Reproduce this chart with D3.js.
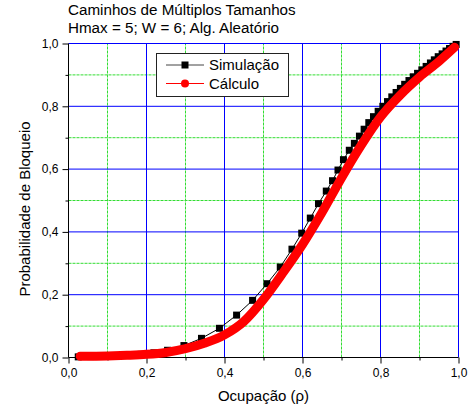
<!DOCTYPE html>
<html><head><meta charset="utf-8">
<script src="https://cdn.jsdelivr.net/npm/d3@7"></script>
<style>
body{margin:0;background:#fff;}
svg text{font-family:"Liberation Sans",Arial,Helvetica,sans-serif;fill:#000;}
</style></head>
<body><svg id="c" width="471" height="416"></svg>
<script>
const titleLines = ["Caminhos de Múltiplos Tamanhos", "Hmax = 5; W = 6; Alg. Aleatório"];
const xLabel = "Ocupação (ρ)";
const yLabel = "Probabilidade de Bloqueio";
const seriesNames = ["Simulação", "Cálculo"];
const majorTicks = [0, 0.2, 0.4, 0.6, 0.8, 1.0];
const minorTicks = [0.1, 0.3, 0.5, 0.7, 0.9];

const simX = [0.025,0.057,0.089,0.121,0.153,0.186,0.219,0.254,0.296,0.341,0.387,0.431,0.472,0.509,0.543,0.573,0.598,0.620,0.641,0.661,0.677,0.691,0.705,0.720,0.733,0.746,0.758,0.770,0.782,0.794,0.806,0.818,0.829,0.840,0.851,0.862,0.873,0.884,0.895,0.906,0.917,0.928,0.938,0.948,0.958,0.968,0.977,0.986,0.994];
const simY = [0.002,0.003,0.004,0.006,0.008,0.010,0.015,0.023,0.038,0.061,0.093,0.135,0.182,0.235,0.288,0.345,0.396,0.444,0.490,0.530,0.563,0.597,0.630,0.660,0.682,0.705,0.727,0.748,0.767,0.784,0.800,0.815,0.830,0.844,0.857,0.870,0.882,0.894,0.905,0.916,0.927,0.938,0.948,0.958,0.967,0.976,0.984,0.991,0.997];

const calcX = [0.03,0.10,0.15,0.20,0.25,0.30,0.35,0.40,0.45,0.50,0.55,0.60,0.65,0.70,0.75,0.80,0.85,0.90,0.95,0.99];
const calcY = [0.004,0.005,0.007,0.010,0.016,0.028,0.046,0.072,0.115,0.185,0.270,0.360,0.462,0.572,0.675,0.766,0.835,0.893,0.943,0.988];

const svg = d3.select("#c");
const x = d3.scaleLinear().domain([0,1]).range([68.5,458.5]);
const y = d3.scaleLinear().domain([0,1]).range([357.5,43.5]);
const fmt = v => d3.format(".1f")(v).replace(".", ",");

// minor grid
const g = svg.append("g");
g.selectAll(null).data(minorTicks).join("line")
  .attr("x1", d=>x(d)).attr("x2", d=>x(d)).attr("y1", y(0)).attr("y2", y(1))
  .attr("stroke","#33dd33").attr("stroke-width",1).attr("stroke-dasharray","3,1");
g.selectAll(null).data(minorTicks).join("line")
  .attr("y1", d=>y(d)).attr("y2", d=>y(d)).attr("x1", x(0)).attr("x2", x(1))
  .attr("stroke","#33dd33").attr("stroke-width",1).attr("stroke-dasharray","3,1");
// major grid
g.selectAll(null).data(majorTicks.slice(1)).join("line")
  .attr("x1", d=>x(d)).attr("x2", d=>x(d)).attr("y1", y(0)).attr("y2", y(1))
  .attr("stroke","#0000ff").attr("stroke-width",1);
g.selectAll(null).data(majorTicks.slice(1)).join("line")
  .attr("y1", d=>y(d)).attr("y2", d=>y(d)).attr("x1", x(0)).attr("x2", x(1))
  .attr("stroke","#0000ff").attr("stroke-width",1);

// axes
const ax = svg.append("g").attr("transform",`translate(0,${y(0)})`)
  .call(d3.axisBottom(x).tickValues(majorTicks).tickFormat(fmt).tickSize(6).tickPadding(5));
svg.append("g").attr("transform",`translate(0,${y(0)})`)
  .call(d3.axisBottom(x).tickValues(minorTicks).tickFormat("").tickSize(3)).select(".domain").remove();
const ay = svg.append("g").attr("transform",`translate(${x(0)},0)`)
  .call(d3.axisLeft(y).tickValues(majorTicks).tickFormat(fmt).tickSize(6).tickPadding(4));
svg.append("g").attr("transform",`translate(${x(0)},0)`)
  .call(d3.axisLeft(y).tickValues(minorTicks).tickFormat("").tickSize(3)).select(".domain").remove();
svg.selectAll(".tick line").attr("stroke","#000");
svg.selectAll(".tick text").attr("font-size",12).attr("fill","#000")
  .attr("font-family","'Liberation Sans',Arial,sans-serif");
ax.selectAll(".domain").remove();
ay.selectAll(".domain").remove();
svg.append("line").attr("x1",x(0)).attr("x2",x(0)).attr("y1",y(1)).attr("y2",y(0)).attr("stroke","#000");
svg.append("line").attr("x1",x(0)).attr("x2",x(1)).attr("y1",y(0)).attr("y2",y(0)).attr("stroke","#000");

// simulation series
const sim = simX.map((v,i)=>[v, simY[i]]);
const calc = calcX.map((v,i)=>[v, calcY[i]]);
const line = d3.line().x(d=>x(d[0])).y(d=>y(d[1]));
svg.append("path").attr("d", line(sim)).attr("fill","none").attr("stroke","#000").attr("stroke-width",1);
svg.selectAll(null).data(sim).join("rect")
  .attr("x", d=>x(d[0])-3.5).attr("y", d=>y(d[1])-3.5).attr("width",7).attr("height",7).attr("fill","#000");
// calculation series
const lineC = d3.line().x(d=>x(d[0])).y(d=>y(d[1])).curve(d3.curveMonotoneX);
svg.append("path").attr("d", lineC(calc)).attr("fill","none").attr("stroke","#ff0000")
  .attr("stroke-width",9).attr("stroke-linecap","round").attr("stroke-linejoin","round");

// titles
svg.selectAll(null).data(titleLines).join("text")
  .attr("x",68).attr("y",(d,i)=>15+i*17.5).text(d=>d).attr("font-size",15.2);
svg.append("text").attr("x",(x(0)+x(1))/2).attr("y",401).attr("text-anchor","middle")
  .text(xLabel).attr("font-size",15);
svg.append("text").attr("transform",`translate(30,209) rotate(-90)`).attr("text-anchor","middle")
  .text(yLabel).attr("font-size",15);

// legend
const lg = svg.append("g");
lg.append("rect").attr("x",156.5).attr("y",53.5).attr("width",132).attr("height",43)
  .attr("fill","#fff").attr("stroke","#222").attr("stroke-width",1);
lg.append("line").attr("x1",166).attr("x2",204).attr("y1",65).attr("y2",65).attr("stroke","#444").attr("stroke-width",1);
lg.append("rect").attr("x",181.5).attr("y",61.5).attr("width",7).attr("height",7).attr("fill","#000");
lg.append("line").attr("x1",166).attr("x2",204).attr("y1",83.5).attr("y2",83.5).attr("stroke","#ff0000").attr("stroke-width",1);
lg.append("circle").attr("cx",185).attr("cy",83.5).attr("r",4).attr("fill","#ff0000");
lg.selectAll(null).data(seriesNames).join("text")
  .attr("x",209).attr("y",(d,i)=>70+i*18.5).text(d=>d).attr("font-size",15);
</script></body></html>
